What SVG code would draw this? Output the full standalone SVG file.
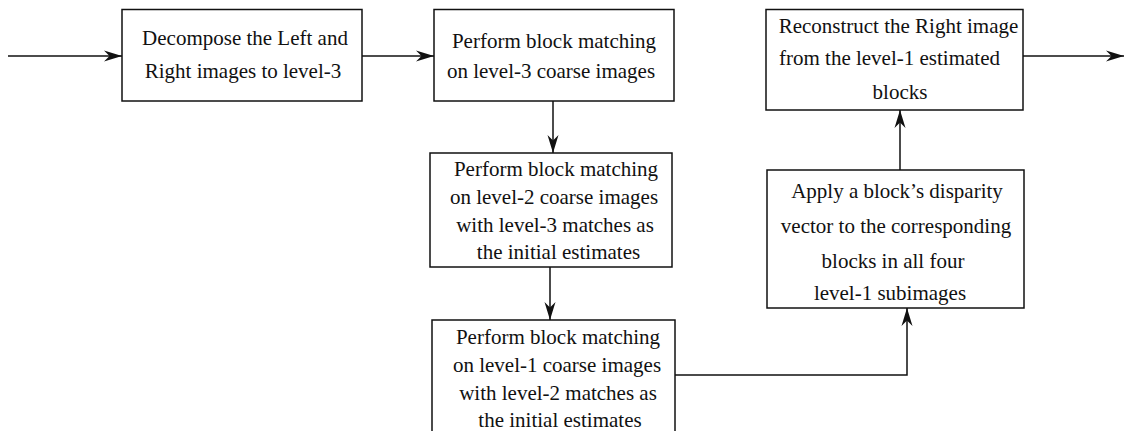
<svg xmlns="http://www.w3.org/2000/svg" width="1128" height="431" viewBox="0 0 1128 431">
<style>
.box{fill:#fff;stroke:#111;stroke-width:1.5}
.t{font-family:"Liberation Serif","Times New Roman",serif;font-size:21px;fill:#111;text-anchor:middle}
.c{fill:none;stroke:#111;stroke-width:1.5}
</style>
<defs>
<marker id="ah" markerUnits="userSpaceOnUse" markerWidth="20" markerHeight="14" viewBox="-19 -7 20 14" refX="0" refY="0" orient="auto">
<path d="M0,0 L-18,-5.5 L-12.5,0 L-18,5.5 Z" fill="#111"/>
</marker>
</defs>
<rect width="1128" height="431" fill="#fff"/>
<g id="connectors">
<line class="c" x1="8" y1="56" x2="122" y2="56" marker-end="url(#ah)"/>
<line class="c" x1="362" y1="56" x2="434" y2="56" marker-end="url(#ah)"/>
<line class="c" x1="1023" y1="56" x2="1124" y2="56" marker-end="url(#ah)"/>
<line class="c" x1="553" y1="101" x2="553" y2="153" marker-end="url(#ah)"/>
<line class="c" x1="550" y1="267" x2="550" y2="320" marker-end="url(#ah)"/>
<polyline class="c" points="675,375 907,375 907,308" marker-end="url(#ah)"/>
<line class="c" x1="900" y1="170" x2="900" y2="110" marker-end="url(#ah)"/>
</g>
<g id="decompose">
<rect class="box" x="122" y="9.5" width="240" height="91.5"/>
<text class="t" x="245" y="45">Decompose the Left and</text>
<text class="t" x="243" y="78">Right images to level-3</text>
</g>
<g id="match3">
<rect class="box" x="434" y="9.5" width="240" height="91.5"/>
<text class="t" x="554" y="48">Perform block matching</text>
<text class="t" x="551" y="78">on level-3 coarse images</text>
</g>
<g id="reconstruct">
<rect class="box" x="766" y="9.5" width="257" height="100.5"/>
<text class="t" x="898.5" y="33">Reconstruct the Right image</text>
<text class="t" x="889.5" y="65">from the level-1 estimated</text>
<text class="t" x="900" y="99">blocks</text>
</g>
<g id="match2">
<rect class="box" x="430" y="153" width="242" height="114"/>
<text class="t" x="556" y="176">Perform block matching</text>
<text class="t" x="554" y="204">on level-2 coarse images</text>
<text class="t" x="555" y="232">with level-3 matches as</text>
<text class="t" x="558.5" y="259">the initial estimates</text>
</g>
<g id="match1">
<rect class="box" x="432" y="320" width="243" height="120"/>
<text class="t" x="558" y="344">Perform block matching</text>
<text class="t" x="557" y="372">on level-1 coarse images</text>
<text class="t" x="558" y="400">with level-2 matches as</text>
<text class="t" x="560" y="427">the initial estimates</text>
</g>
<g id="apply">
<rect class="box" x="767" y="170" width="257" height="138"/>
<text class="t" x="897" y="198">Apply a block’s disparity</text>
<text class="t" x="896" y="233">vector to the corresponding</text>
<text class="t" x="893" y="268">blocks in all four</text>
<text class="t" x="890" y="300">level-1 subimages</text>
</g>
</svg>
